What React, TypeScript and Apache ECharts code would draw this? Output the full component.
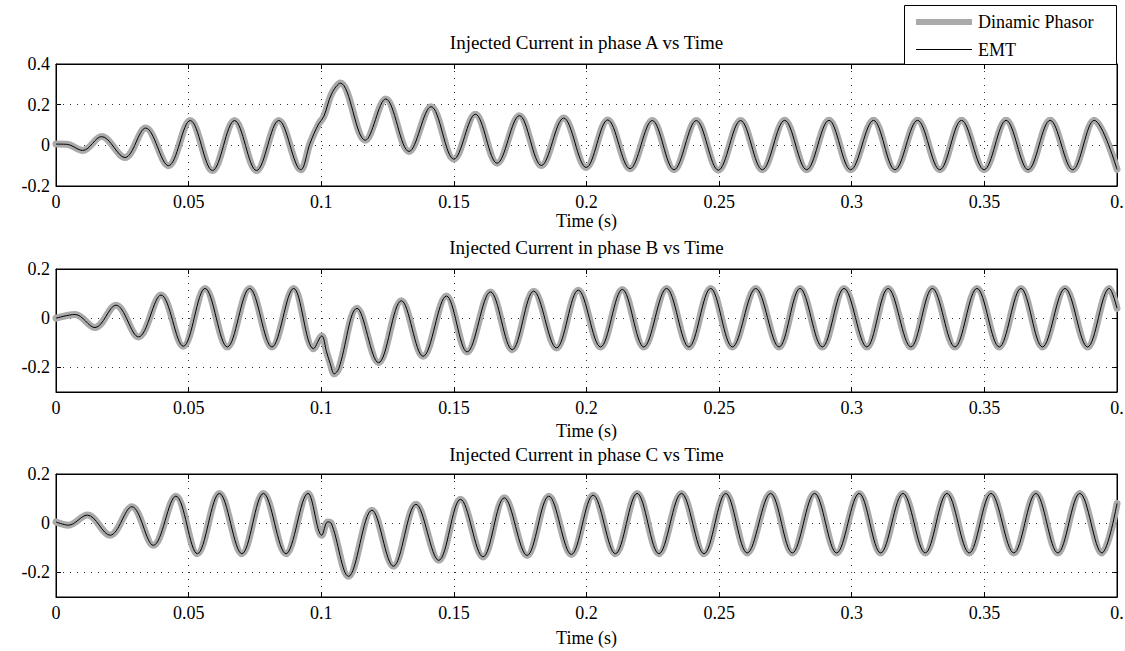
import React, { useEffect, useRef } from 'react';
import * as echarts from 'echarts';

// ---- data ----
const titles = [
  'Injected Current in phase A vs Time',
  'Injected Current in phase B vs Time',
  'Injected Current in phase C vs Time',
];
const seriesNames = ['Dinamic Phasor', 'EMT'];
const xAxisName = 'Time (s)';

const timeA = [
  0, 0.004, 0.0101, 0.0172, 0.026, 0.0338, 0.0424, 0.0506, 0.059, 0.0673, 0.0756, 0.084, 0.0923,
  0.0958, 0.099, 0.1009, 0.104, 0.1072, 0.1166, 0.1243, 0.1331, 0.1414, 0.15, 0.1581, 0.1663,
  0.1747, 0.183, 0.1914, 0.1999, 0.208, 0.2164, 0.2248, 0.233, 0.2414, 0.2497, 0.2581, 0.2663,
  0.2747, 0.283, 0.2914, 0.2996, 0.3082, 0.3163, 0.3248, 0.3332, 0.3414, 0.3499, 0.3582, 0.3665,
  0.3748, 0.3833, 0.3914, 0.4,
];
const currentA = [
  0.006, 0.005, -0.025, 0.043, -0.06, 0.085, -0.1, 0.122, -0.124, 0.122, -0.124, 0.122, -0.12,
  0.011, 0.105, 0.14, 0.256, 0.306, 0.025, 0.228, -0.03, 0.19, -0.068, 0.153, -0.088,
  0.146, -0.099, 0.134, -0.109, 0.125, -0.115, 0.122, -0.12, 0.122, -0.122, 0.122, -0.12,
  0.123, -0.12, 0.123, -0.12, 0.123, -0.12, 0.123, -0.12, 0.123, -0.12, 0.123, -0.12,
  0.123, -0.12, 0.123, -0.118,
];

const timeB = [
  0, 0.0072, 0.0147, 0.0226, 0.0311, 0.0396, 0.048, 0.0562, 0.0646, 0.073, 0.0814, 0.0896, 0.0971,
  0.1002, 0.102, 0.1034, 0.1049, 0.1066, 0.1135, 0.1216, 0.1302, 0.1384, 0.1472, 0.155, 0.1638,
  0.172, 0.1801, 0.1887, 0.1969, 0.2053, 0.2135, 0.2216, 0.2302, 0.2386, 0.2468, 0.255, 0.2638,
  0.2726, 0.2805, 0.2889, 0.2971, 0.3057, 0.3137, 0.3223, 0.3304, 0.3389, 0.3472, 0.3556, 0.3638,
  0.3719, 0.3804, 0.3889, 0.3971, 0.4,
];
const currentB = [
  0, 0.015, -0.038, 0.053, -0.076, 0.094, -0.114, 0.121, -0.117, 0.121, -0.117, 0.121, -0.124,
  -0.072, -0.137, -0.185, -0.226, -0.205, 0.04, -0.181, 0.071, -0.155, 0.09, -0.137, 0.107,
  -0.128, 0.11, -0.121, 0.114, -0.117, 0.117, -0.117, 0.121, -0.117, 0.121, -0.117, 0.121,
  -0.117, 0.121, -0.117, 0.121, -0.117, 0.121, -0.117, 0.121, -0.117, 0.121, -0.117, 0.121,
  -0.117, 0.121, -0.117, 0.121, 0.04,
];

const timeC = [
  0, 0.0047, 0.0118, 0.0204, 0.0286, 0.0367, 0.0452, 0.0533, 0.0616, 0.0701, 0.0782, 0.0867, 0.095,
  0.1002, 0.1024, 0.1037, 0.1103, 0.1191, 0.1272, 0.1357, 0.1443, 0.1525, 0.161, 0.169, 0.1776,
  0.1858, 0.1943, 0.2025, 0.2109, 0.2191, 0.2273, 0.2358, 0.2443, 0.2525, 0.2606, 0.2694, 0.2776,
  0.286, 0.2943, 0.3028, 0.3109, 0.3193, 0.3277, 0.3359, 0.3443, 0.3525, 0.3611, 0.3694, 0.3777,
  0.386, 0.3943, 0.4,
];
const currentC = [
  0.005, -0.008, 0.033, -0.049, 0.067, -0.09, 0.11, -0.124, 0.121, -0.124, 0.121, -0.124, 0.121,
  -0.049, 0.005, 0.001, -0.216, 0.053, -0.175, 0.077, -0.151, 0.097, -0.137, 0.103, -0.131,
  0.11, -0.127, 0.114, -0.124, 0.121, -0.124, 0.121, -0.124, 0.121, -0.121, 0.121, -0.121,
  0.121, -0.121, 0.121, -0.121, 0.121, -0.121, 0.121, -0.121, 0.121, -0.121, 0.121, -0.121,
  0.121, -0.121, 0.08,
];

const xMin = 0;
const xMax = 0.4;
const xStep = 0.05;
const yRanges = [
  [-0.2, 0.4],
  [-0.3, 0.2],
  [-0.3, 0.2],
];
const yTickValues = [
  [-0.2, 0, 0.2, 0.4],
  [-0.2, 0, 0.2],
  [-0.2, 0, 0.2],
];
const yGridValues = [
  [0, 0.2],
  [-0.2, 0],
  [-0.2, 0],
];

// ---- layout / style ----
const FONT = 'Liberation Serif, Times New Roman, serif';
const FS = 18;
const TITLE_FS = 19;
const GRID_LEFT = 56;
const GRID_WIDTH = 1061;
const gridTops = [64, 269, 474];
const gridHeights = [122, 123, 123];
const nameGaps = [26, 30, 32];
const titleTops = [33, 238, 445];
const GRAY = '#aaaaaa';
const DOT = [1, 6];

export default function App() {
  const ref = useRef<HTMLDivElement>(null);

  useEffect(() => {
    if (!ref.current) return;
    const chart = echarts.init(ref.current, undefined, { renderer: 'svg' });

    const dataSets = [
      timeA.map((t, i) => [t, currentA[i]]),
      timeB.map((t, i) => [t, currentB[i]]),
      timeC.map((t, i) => [t, currentC[i]]),
    ];

    const grid: any[] = [];
    const xAxis: any[] = [];
    const yAxis: any[] = [];
    const series: any[] = [];
    const title: any[] = [];

    for (let i = 0; i < 3; i++) {
      grid.push({
        left: GRID_LEFT,
        top: gridTops[i],
        width: GRID_WIDTH,
        height: gridHeights[i],
        show: true,
        borderColor: '#000',
        borderWidth: 1,
        backgroundColor: 'transparent',
        containLabel: false,
        outerBoundsMode: 'none',
      });
      title.push({
        text: titles[i],
        left: GRID_LEFT + GRID_WIDTH / 2,
        top: titleTops[i],
        textAlign: 'center',
        padding: 0,
        textStyle: { fontFamily: FONT, fontSize: TITLE_FS, fontWeight: 'normal', color: '#000' },
      });
      xAxis.push({
        type: 'value',
        gridIndex: i,
        position: 'bottom',
        min: xMin,
        max: xMax,
        interval: xStep,
        name: xAxisName,
        nameLocation: 'middle',
        nameGap: nameGaps[i],
        nameTextStyle: { fontFamily: FONT, fontSize: FS, color: '#000' },
        axisLine: { show: true, onZero: false, lineStyle: { color: '#000', width: 1 } },
        axisTick: { show: true, inside: true, length: 5, lineStyle: { color: '#000' } },
        axisLabel: {
          show: true,
          margin: 7,
          fontFamily: FONT,
          fontSize: FS,
          color: '#000',
          showMinLabel: true,
          showMaxLabel: true,
          hideOverlap: false,
          formatter: (v: number) => (Math.abs(v - xMax) < 1e-9 ? '0.' : String(+v.toFixed(2))),
        },
        splitLine: { show: true, lineStyle: { color: '#333', width: 1, type: DOT } },
      });
      xAxis.push({
        type: 'value',
        gridIndex: i,
        position: 'top',
        min: xMin,
        max: xMax,
        interval: xStep,
        axisLine: { show: true, onZero: false, lineStyle: { color: '#000', width: 1 } },
        axisTick: { show: true, inside: true, length: 5, lineStyle: { color: '#000' } },
        axisLabel: { show: false },
        splitLine: { show: false },
      });
      yAxis.push({
        type: 'value',
        gridIndex: i,
        position: 'left',
        min: yRanges[i][0],
        max: yRanges[i][1],
        interval: 0.1,
        axisLine: { show: true, onZero: false, lineStyle: { color: '#000', width: 1 } },
        axisTick: {
          show: true,
          inside: true,
          length: 5,
          customValues: yTickValues[i],
          lineStyle: { color: '#000' },
        },
        axisLabel: {
          show: true,
          margin: 6,
          fontFamily: FONT,
          fontSize: FS,
          color: '#000',
          customValues: yTickValues[i],
          formatter: (v: number) => String(+v.toFixed(2)),
        },
        splitLine: { show: false },
      });
      yAxis.push({
        type: 'value',
        gridIndex: i,
        position: 'right',
        min: yRanges[i][0],
        max: yRanges[i][1],
        interval: 0.1,
        axisLine: { show: true, onZero: false, lineStyle: { color: '#000', width: 1 } },
        axisTick: {
          show: true,
          inside: true,
          length: 5,
          customValues: yTickValues[i],
          lineStyle: { color: '#000' },
        },
        axisLabel: { show: false },
        splitLine: { show: false },
      });
      series.push({
        name: seriesNames[0],
        type: 'line',
        xAxisIndex: 2 * i,
        yAxisIndex: 2 * i,
        data: dataSets[i],
        smooth: 0.36,
        showSymbol: false,
        symbol: 'none',
        lineStyle: { color: GRAY, width: 7, cap: 'round', join: 'round' },
        z: 2,
        markLine: {
          silent: true,
          symbol: 'none',
          label: { show: false },
          lineStyle: { color: '#333', width: 1, type: DOT },
          data: yGridValues[i].map((v) => ({ yAxis: v })),
          z: 1,
        },
      });
      series.push({
        name: seriesNames[1],
        type: 'line',
        xAxisIndex: 2 * i,
        yAxisIndex: 2 * i,
        data: dataSets[i],
        smooth: 0.36,
        showSymbol: false,
        symbol: 'none',
        lineStyle: { color: '#000', width: 1 },
        z: 3,
      });
    }

    const graphic: any[] = [
      {
        type: 'rect',
        shape: { x: 904.5, y: 5.5, width: 212, height: 59 },
        style: { fill: '#fff', stroke: '#000', lineWidth: 1 },
        z: 100,
      },
      {
        type: 'line',
        shape: { x1: 916, y1: 22, x2: 972, y2: 22 },
        style: { stroke: GRAY, lineWidth: 6 },
        z: 101,
      },
      {
        type: 'text',
        x: 978,
        y: 22,
        style: {
          text: seriesNames[0],
          fontFamily: FONT,
          fontSize: FS,
          fill: '#000',
          verticalAlign: 'middle',
        },
        z: 101,
      },
      {
        type: 'line',
        shape: { x1: 916, y1: 49.5, x2: 972, y2: 49.5 },
        style: { stroke: '#000', lineWidth: 1 },
        z: 101,
      },
      {
        type: 'text',
        x: 978,
        y: 50,
        style: {
          text: seriesNames[1],
          fontFamily: FONT,
          fontSize: FS,
          fill: '#000',
          verticalAlign: 'middle',
        },
        z: 101,
      },
    ];

    chart.setOption({
      animation: false,
      backgroundColor: '#fff',
      title,
      grid,
      xAxis,
      yAxis,
      series,
      graphic,
    });

    return () => chart.dispose();
  }, []);

  return (
    <div
      ref={ref}
      style={{ position: 'absolute', left: 0, top: 0, width: 1125, height: 651 }}
    />
  );
}
